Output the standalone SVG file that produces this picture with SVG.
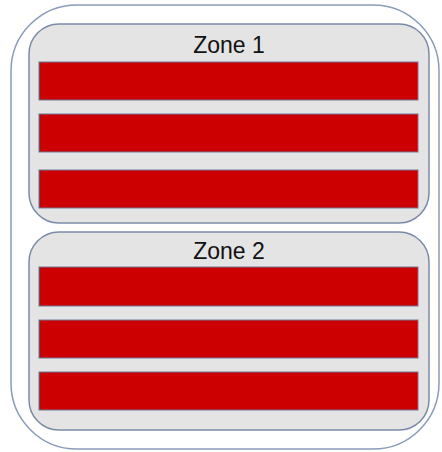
<svg xmlns="http://www.w3.org/2000/svg" width="442" height="452" viewBox="0 0 442 452">
<style>
.outer{fill:#ffffff;stroke:#8a9cbb;stroke-width:1.5}
.zone{fill:#e4e4e4;stroke:#7a8aa6;stroke-width:1.5}
.bar{fill:#cc0000;stroke:#6f7a98;stroke-width:1}
.lbl{font-family:"Liberation Sans",Arial,sans-serif;font-size:23px;fill:#111;text-anchor:middle}
</style>
<rect width="442" height="452" fill="#ffffff"/>
<g id="outer"><rect class="outer" x="11" y="5" width="428" height="444" rx="66" ry="66"/></g>
<g id="zone1">
<rect class="zone" x="29" y="24" width="400" height="199" rx="30" ry="30"/>
<text class="lbl" x="229" y="53">Zone 1</text>
<rect class="bar" x="39" y="62" width="379" height="38"/>
<rect class="bar" x="39" y="114" width="379" height="38"/>
<rect class="bar" x="39" y="170" width="379" height="38"/>
</g>
<g id="zone2">
<rect class="zone" x="29" y="232" width="400" height="198" rx="30" ry="30"/>
<text class="lbl" x="229" y="259">Zone 2</text>
<rect class="bar" x="39" y="267" width="379" height="39"/>
<rect class="bar" x="39" y="320" width="379" height="38"/>
<rect class="bar" x="39" y="372" width="379" height="38"/>
</g>
<g id="connectors"></g>
</svg>
